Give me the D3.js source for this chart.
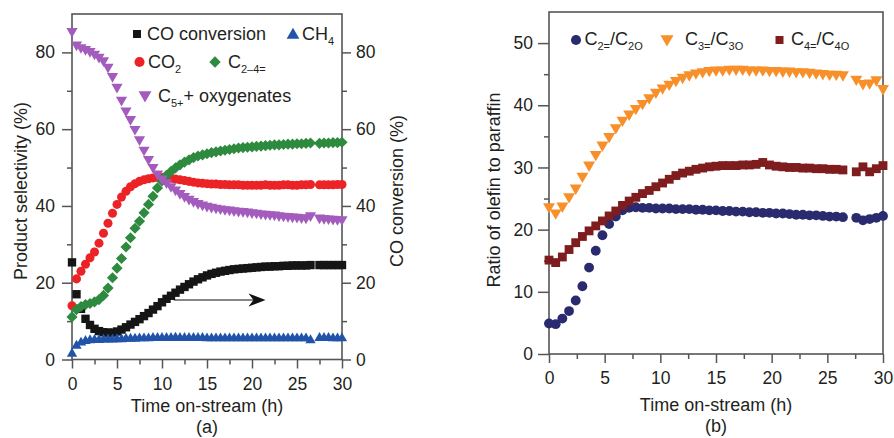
<!DOCTYPE html>
<html>
<head>
<meta charset="utf-8">
<script src="https://cdn.jsdelivr.net/npm/d3@7"></script>
<style>
  body { margin: 0; background: #fff; }
  svg { display: block; font-family: "Liberation Sans", Arial, sans-serif; }
</style>
</head>
<body>
<script>
// sampling times (h), panel (a) and panel (b)
const hoursA = [0, 0.5, 1, 1.5, 2, 2.5, 3, 3.5, 4, 4.5, 5, 5.5, 6, 6.5, 7, 7.5, 8, 8.5, 9, 9.5,
  10, 10.5, 11, 11.5, 12, 12.5, 13, 13.5, 14, 14.5, 15, 15.5, 16, 16.5, 17, 17.5, 18, 18.5, 19, 19.5,
  20, 20.5, 21, 21.5, 22, 22.5, 23, 23.5, 24, 24.5, 25, 25.5, 26, 26.5, 27.5, 28, 28.5, 29, 29.5, 30];
const hoursB = [0, 0.6, 1.2, 1.8, 2.4, 3, 3.6, 4.2, 4.8, 5.4, 6, 6.6, 7.2, 7.8, 8.4, 9, 9.6, 10.2, 10.8, 11.4,
  12, 12.6, 13.2, 13.8, 14.4, 15, 15.6, 16.2, 16.8, 17.4, 18, 18.6, 19.2, 19.8, 20.4, 21, 21.6, 22.2, 22.8, 23.4,
  24, 24.6, 25.2, 25.8, 26.4, 27.6, 28.2, 28.8, 29.4, 30];

// panel (a): selectivity (%) and CO conversion (%)
const coConversion = [25.3, 17.0, 13.2, 10.6, 9.0, 8.0, 7.4, 7.1, 7.0, 7.0,
  7.3, 7.8, 8.4, 9.1, 9.8, 10.5, 11.3, 12.1, 13.0, 13.9,
  14.9, 15.8, 16.6, 17.4, 18.2, 18.9, 19.6, 20.3, 20.9, 21.4,
  21.9, 22.3, 22.6, 22.9, 23.1, 23.3, 23.5, 23.6, 23.7, 23.8,
  23.9, 24.0, 24.1, 24.2, 24.2, 24.3, 24.3, 24.4, 24.4, 24.5,
  24.5, 24.5, 24.5, 24.6, 24.6, 24.6, 24.6, 24.6, 24.6, 24.6];
const ch4 = [1.5, 3.6, 4.4, 4.8, 5.0, 5.1, 5.1, 5.2, 5.2, 5.2,
  5.3, 5.3, 5.4, 5.4, 5.4, 5.5, 5.5, 5.5, 5.6, 5.6,
  5.6, 5.6, 5.6, 5.7, 5.6, 5.6, 5.6, 5.6, 5.6, 5.6,
  5.5, 5.5, 5.5, 5.5, 5.5, 5.5, 5.5, 5.5, 5.5, 5.5,
  5.5, 5.5, 5.5, 5.5, 5.5, 5.5, 5.5, 5.5, 5.5, 5.5,
  5.5, 5.5, 5.5, 5.0, 5.6, 5.6, 5.6, 5.5, 5.5, 5.5];
const co2 = [14.0, 21.0, 23.0, 24.8, 26.5, 28.0, 30.3, 32.9, 35.5, 38.1,
  40.4, 42.3, 43.8, 45.0, 45.8, 46.4, 46.8, 47.1, 47.3, 47.4,
  47.4, 47.3, 47.2, 47.0, 46.8, 46.6, 46.4, 46.2, 46.0, 45.9,
  45.8, 45.7, 45.7, 45.6, 45.6, 45.5, 45.5, 45.5, 45.4, 45.4,
  45.4, 45.4, 45.4, 45.5, 45.4, 45.4, 45.4, 45.5, 45.5, 45.4,
  45.4, 45.5, 45.5, 45.6, 45.5, 45.5, 45.5, 45.5, 45.6, 45.6];
const c24 = [11.1, 13.0, 13.8, 14.3, 14.6, 15.0, 15.6, 16.7, 18.6, 21.3,
  23.8, 26.3, 29.3, 31.7, 34.2, 36.0, 38.2, 40.4, 42.5, 44.7,
  46.5, 48.0, 49.0, 49.9, 50.7, 51.4, 52.0, 52.6, 53.0, 53.3,
  53.6, 53.9, 54.1, 54.3, 54.5, 54.7, 54.9, 55.1, 55.2, 55.3,
  55.4, 55.5, 55.6, 55.7, 55.8, 55.9, 55.9, 56.0, 56.1, 56.1,
  56.2, 56.2, 56.3, 56.4, 56.3, 56.4, 56.4, 56.5, 56.5, 56.6];
const c5oxy = [85.5, 82.0, 81.3, 80.8, 80.3, 79.6, 78.8, 77.9, 76.2, 73.8,
  71.0, 67.6, 64.8, 62.6, 60.0, 57.3, 54.6, 52.2, 50.1, 48.4,
  47.1, 46.1, 45.1, 44.2, 43.3, 42.5, 41.8, 41.2, 40.7, 40.3,
  40.0, 39.7, 39.5, 39.3, 39.1, 39.0, 38.8, 38.7, 38.6, 38.5,
  38.3, 38.2, 38.0, 37.9, 37.8, 37.7, 37.5, 37.4, 37.3, 37.2,
  37.1, 37.0, 36.9, 37.5, 36.9, 36.8, 36.7, 36.6, 36.5, 36.5];

// panel (b): olefin / paraffin ratio
const ratioC2 = [4.9, 4.8, 5.7, 6.9, 8.6, 10.9, 13.9, 16.6, 19.1, 20.9,
  22.1, 23.1, 23.5, 23.6, 23.5, 23.5, 23.4, 23.4, 23.4, 23.3,
  23.3, 23.3, 23.2, 23.2, 23.1, 23.1, 23.0, 23.0, 22.9, 22.9,
  22.8, 22.8, 22.7, 22.7, 22.6, 22.6, 22.5, 22.4, 22.4, 22.3,
  22.3, 22.2, 22.1, 22.1, 22.0, 21.9, 21.5, 21.7, 21.9, 22.2];
const ratioC3 = [23.7, 22.7, 23.8, 25.3, 26.7, 28.6, 30.4, 32.1, 33.6, 35.0,
  36.4, 37.6, 38.6, 39.5, 40.3, 41.2, 42.1, 42.8, 43.4, 44.0,
  44.5, 44.9, 45.2, 45.4, 45.6, 45.7, 45.7, 45.8, 45.8, 45.8,
  45.7, 45.7, 45.7, 45.6, 45.6, 45.5, 45.5, 45.4, 45.4, 45.3,
  45.2, 45.1, 45.0, 45.0, 44.9, 44.2, 43.5, 43.6, 44.1, 42.7];
const ratioC4 = [15.1, 14.7, 15.6, 16.8, 17.9, 18.9, 19.8, 20.6, 21.4, 22.2,
  23.0, 23.9, 24.6, 25.2, 25.8, 26.3, 26.9, 27.5, 28.1, 28.7,
  29.1, 29.4, 29.7, 29.9, 30.1, 30.2, 30.3, 30.3, 30.3, 30.4,
  30.4, 30.5, 30.8, 30.4, 30.2, 30.1, 30.0, 30.0, 29.9, 29.9,
  29.8, 29.8, 29.7, 29.7, 29.6, 29.3, 30.1, 29.3, 29.8, 30.3];

// tick values
const xMajor = [0, 5, 10, 15, 20, 25, 30];
const xMinor = [2.5, 7.5, 12.5, 17.5, 22.5, 27.5];
const yMajorA = [0, 20, 40, 60, 80];
const yMinorA = [10, 30, 50, 70];
const yMajorB = [0, 10, 20, 30, 40, 50];
const yMinorB = [5, 15, 25, 35, 45];

const frameColor = "#555";
const textColor = "#231f20";

const svg = d3.select("body").append("svg")
    .attr("width", 894)
    .attr("height", 438);

// scales
const xA = d3.scaleLinear().domain([0, 30]).range([72, 342]);
const yA = d3.scaleLinear().domain([0, 90]).range([359.5, 14]);
const xB = d3.scaleLinear().domain([0, 30]).range([549, 883]);
const yB = d3.scaleLinear().domain([0, 55]).range([354, 12]);

function styleAxis(g) {
    g.attr("font-family", null).attr("font-size", null);
    g.select(".domain").remove();
    g.selectAll(".tick line").attr("stroke", frameColor).attr("stroke-width", 1.5);
    g.selectAll(".tick text").attr("fill", textColor).style("font-size", "17.5px");
}

function addAxis(axis, tx, ty) {
    svg.append("g")
        .attr("transform", `translate(${tx},${ty})`)
        .call(axis)
        .call(styleAxis);
}

function frame(x, y) {
    const [x0, x1] = x.range();
    const [y0, y1] = y.range();
    svg.append("rect")
        .attr("x", x0).attr("y", y1)
        .attr("width", x1 - x0).attr("height", y0 - y1)
        .attr("fill", "none")
        .attr("stroke", frameColor)
        .attr("stroke-width", 1.6);
}

// panel (a) axes
addAxis(d3.axisBottom(xA).tickValues(xMinor).tickSize(5).tickFormat(""), 0, yA(0));
addAxis(d3.axisBottom(xA).tickValues(xMajor).tickSize(9).tickPadding(9), 0, yA(0));
addAxis(d3.axisLeft(yA).tickValues(yMinorA).tickSize(5).tickFormat(""), xA(0), 0);
addAxis(d3.axisLeft(yA).tickValues(yMajorA).tickSize(10).tickPadding(7), xA(0), 0);
addAxis(d3.axisRight(yA).tickValues(yMinorA).tickSize(5).tickFormat(""), xA(30), 0);
addAxis(d3.axisRight(yA).tickValues(yMajorA).tickSize(9).tickPadding(5), xA(30), 0);
frame(xA, yA);

// panel (b) axes
addAxis(d3.axisBottom(xB).tickValues(xMinor).tickSize(5).tickFormat(""), 0, yB(0));
addAxis(d3.axisBottom(xB).tickValues(xMajor).tickSize(9).tickPadding(9), 0, yB(0));
addAxis(d3.axisLeft(yB).tickValues(yMinorB).tickSize(5).tickFormat(""), xB(0), 0);
addAxis(d3.axisLeft(yB).tickValues(yMajorB).tickSize(11).tickPadding(5), xB(0), 0);
frame(xB, yB);

// markers
const sym = (type, size) => d3.symbol().type(type).size(size)();

function drawSeries(xs, ys, x, y, type, size, color, rot) {
    svg.append("g").selectAll("path")
        .data(ys)
        .join("path")
        .attr("d", sym(type, size))
        .attr("transform", (d, i) => `translate(${x(xs[i])},${y(d)}) rotate(${rot})`)
        .attr("fill", color);
}

const colors = {
    conv: "#151515", ch4: "#2154a8", co2: "#ec2326", c24: "#2d8a3f", c5: "#a35cbd",
    c2: "#2a2a6f", c3: "#f7902a", c4: "#7e1c1e"
};

drawSeries(hoursA, coConversion, xA, yA, d3.symbolSquare, 70, colors.conv, 0);
drawSeries(hoursA, ch4, xA, yA, d3.symbolTriangle, 46, colors.ch4, 0);
drawSeries(hoursA, co2, xA, yA, d3.symbolCircle, 64, colors.co2, 0);
drawSeries(hoursA, c24, xA, yA, d3.symbolSquare, 62, colors.c24, 45);
drawSeries(hoursA, c5oxy, xA, yA, d3.symbolTriangle, 54, colors.c5, 180);

drawSeries(hoursB, ratioC2, xB, yB, d3.symbolCircle, 76, colors.c2, 0);
drawSeries(hoursB, ratioC4, xB, yB, d3.symbolSquare, 78, colors.c4, 0);
drawSeries(hoursB, ratioC3, xB, yB, d3.symbolTriangle, 62, colors.c3, 180);

// arrow pointing to the right axis (CO conversion)
const arrowY = yA(15.5), arrowX0 = xA(11.3), arrowX1 = xA(21.5);
svg.append("line")
    .attr("x1", arrowX0).attr("x2", arrowX1 - 6)
    .attr("y1", arrowY).attr("y2", arrowY)
    .attr("stroke", "#111").attr("stroke-width", 1.2);
svg.append("path")
    .attr("d", `M${arrowX1},${arrowY} L${arrowX1 - 17},${arrowY - 6.5} L${arrowX1 - 12},${arrowY} L${arrowX1 - 17},${arrowY + 6.5} Z`)
    .attr("fill", "#111");

// text with subscripts: parts are strings or {sub: "..."}
function richText(x, y, parts) {
    const t = svg.append("text")
        .attr("x", x).attr("y", y)
        .attr("fill", textColor)
        .style("font-size", "18px");
    let low = false;
    parts.forEach(p => {
        const isSub = typeof p !== "string";
        const span = t.append("tspan").text(isSub ? p.sub : p);
        if (isSub) {
            span.style("font-size", "11px");
            if (!low) { span.attr("dy", 5); low = true; }
        } else if (low) {
            span.attr("dy", -5);
            low = false;
        }
    });
}

function legendMark(cx, cy, type, size, color, rot) {
    svg.append("path")
        .attr("d", sym(type, size))
        .attr("transform", `translate(${cx},${cy}) rotate(${rot})`)
        .attr("fill", color);
}

// legend (a)
legendMark(137, 34, d3.symbolSquare, 64, colors.conv, 0);
richText(147, 40, ["CO conversion"]);
legendMark(293, 35, d3.symbolTriangle, 70, colors.ch4, 0);
richText(302, 40, ["CH", { sub: "4" }]);
legendMark(139.5, 62, d3.symbolCircle, 80, colors.co2, 0);
richText(148, 68, ["CO", { sub: "2" }]);
legendMark(215, 62, d3.symbolSquare, 64, colors.c24, 45);
richText(228, 68, ["C", { sub: "2\u20134=" }]);
legendMark(145, 95, d3.symbolTriangle, 72, colors.c5, 180);
richText(158, 102, ["C", { sub: "5+" }, "+ oxygenates"]);

// legend (b)
legendMark(576, 40, d3.symbolCircle, 80, colors.c2, 0);
richText(584.5, 45, ["C", { sub: "2=" }, "/C", { sub: "2O" }]);
legendMark(667, 39, d3.symbolTriangle, 75, colors.c3, 180);
richText(685, 45, ["C", { sub: "3=" }, "/C", { sub: "3O" }]);
legendMark(779.5, 40, d3.symbolSquare, 64, colors.c4, 0);
richText(791, 45, ["C", { sub: "4=" }, "/C", { sub: "4O" }]);

// axis titles
function title(x, y, text, rotate) {
    svg.append("text")
        .attr("transform", `translate(${x},${y}) rotate(${rotate})`)
        .attr("text-anchor", "middle")
        .attr("fill", textColor)
        .style("font-size", "18px")
        .text(text);
}

title(27, 191, "Product selectivity (%)", -90);
title(403, 191, "CO conversion (%)", -90);
title(500, 190, "Ratio of olefin to paraffin", -90);
title((xA(0) + xA(30)) / 2, 412, "Time on-stream (h)", 0);
title((xA(0) + xA(30)) / 2, 433, "(a)", 0);
title((xB(0) + xB(30)) / 2, 411, "Time on-stream (h)", 0);
title((xB(0) + xB(30)) / 2, 432, "(b)", 0);
</script>
</body>
</html>
